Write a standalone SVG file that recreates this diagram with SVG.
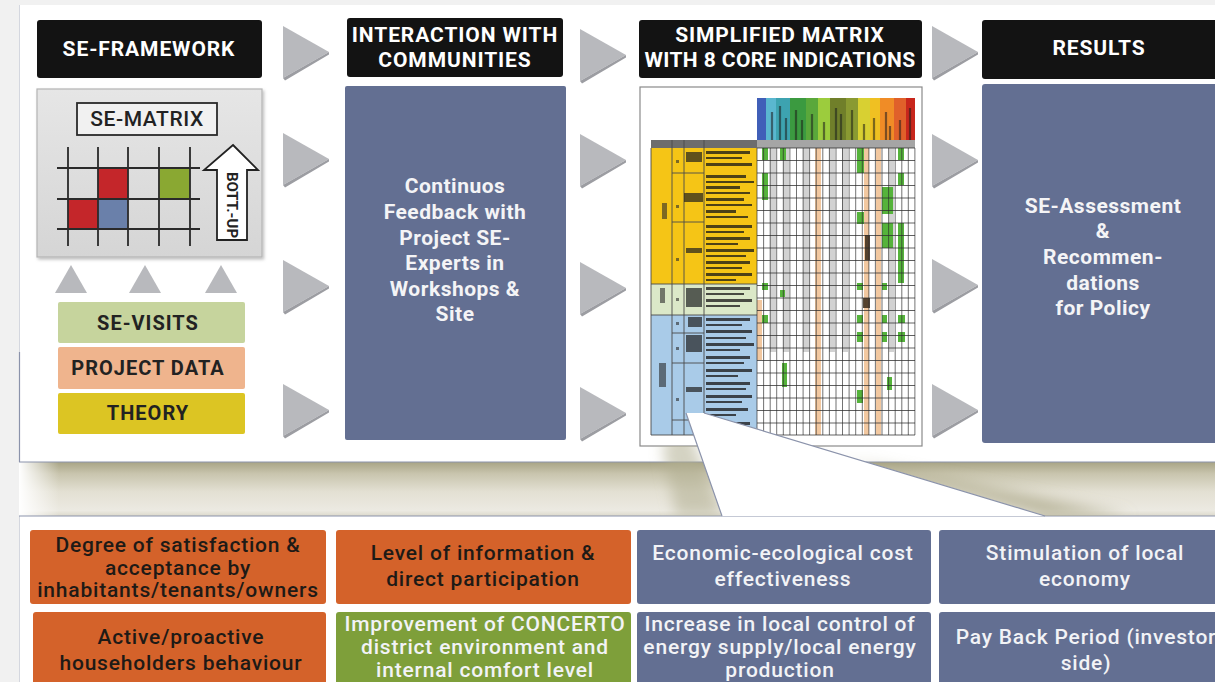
<svg xmlns="http://www.w3.org/2000/svg" width="1215" height="682" viewBox="0 0 1215 682">
  <style>
    .hdr { fill: #131313; }
    .hdr-t { font-family: Roboto, "Liberation Sans", sans-serif; font-weight: 700; font-size: 21px; letter-spacing: 0.9px; fill: #ffffff; text-anchor: middle; }
    .hdr-t.tight { letter-spacing: 0.4px; }
    .blue { fill: #636f92; }
    .orange { fill: #d4622a; }
    .green { fill: #7e9f3a; }
    .body-w { font-family: Roboto, "Liberation Sans", sans-serif; font-weight: 700; font-size: 21px; letter-spacing: 0.5px; fill: #f4f4f6; text-anchor: middle; }
    .cell-t { font-family: Roboto, "Liberation Sans", sans-serif; font-weight: 500; font-size: 21px; letter-spacing: 0.8px; text-anchor: middle; }
    .dark { fill: #1e1a16; }
    .light { fill: #f2f3f6; }
    .src-t { font-family: Roboto, "Liberation Sans", sans-serif; font-weight: 700; font-size: 20px; letter-spacing: 1px; fill: #222222; text-anchor: middle; }
    .tri { fill: #b8b9bd; }
    .tri-s { fill: #9c9da2; }
    .edge { stroke: #8b93ab; stroke-width: 1.2; fill: none; }
  </style>
  <defs>
    <linearGradient id="band" x1="0" y1="0" x2="0" y2="1">
      <stop offset="0" stop-color="#a8a485"/>
      <stop offset="0.22" stop-color="#c9c5ae"/>
      <stop offset="0.55" stop-color="#e3e0d3"/>
      <stop offset="0.9" stop-color="#eceae2"/>
      <stop offset="1" stop-color="#dcd9cb"/>
    </linearGradient>
    <linearGradient id="bandFade" x1="0" y1="0" x2="1" y2="0">
      <stop offset="0" stop-color="#ffffff" stop-opacity="1"/>
      <stop offset="1" stop-color="#ffffff" stop-opacity="0"/>
    </linearGradient>
    <linearGradient id="greyBox" x1="0" y1="0" x2="0" y2="1">
      <stop offset="0" stop-color="#e6e6e6"/>
      <stop offset="1" stop-color="#d5d5d5"/>
    </linearGradient>
    <filter id="soft" x="-5%" y="-5%" width="110%" height="110%">
      <feGaussianBlur stdDeviation="0.6"/>
    </filter>
    <filter id="haze" x="-30%" y="-30%" width="160%" height="160%">
      <feGaussianBlur stdDeviation="7"/>
    </filter>
    <filter id="drop" x="-10%" y="-10%" width="125%" height="125%">
      <feDropShadow dx="1.5" dy="2" stdDeviation="1.5" flood-color="#000000" flood-opacity="0.25"/>
    </filter>
    <clipPath id="bandClip">
      <rect x="19" y="446" width="1196" height="70"/>
    </clipPath>
    <!-- right-pointing flow arrowhead -->
    <g id="triR">
      <path class="tri" d="M0,0 L46,26 L0,52 Z"/>
      <path class="tri-s" d="M0,52 L46,26 L46,28.5 L2,54.5 Z"/>
    </g>
  </defs>

  <!-- page background and panels -->
  <rect x="0" y="0" width="1215" height="682" fill="#f1f1f1"/>
  <rect x="19" y="5" width="1196" height="457" fill="#ffffff"/>
  <line x1="19.5" y1="5" x2="19.5" y2="462" stroke="#d4d7df" stroke-width="1"/>
  <line x1="19.5" y1="352" x2="19.5" y2="462" stroke="#8b93ab" stroke-width="1.2"/>

  <!-- shadow band between the two panels -->
  <rect x="19" y="462" width="1196" height="54" fill="url(#band)"/>
  <rect x="19" y="462" width="40" height="54" fill="url(#bandFade)"/>

  <rect x="19" y="516" width="1196" height="166" fill="#ffffff"/>
  <line x1="19.5" y1="516" x2="19.5" y2="682" stroke="#d4d7df" stroke-width="1"/>
  <line x1="19" y1="462" x2="1215" y2="462" class="edge"/>
  <line x1="19" y1="516" x2="1215" y2="516" class="edge"/>

  <!-- column 1: framework -->
  <g id="se-framework">
    <rect class="hdr" x="37" y="20" width="225" height="58" rx="3"/>
    <text class="hdr-t" x="149" y="56">SE-FRAMEWORK</text>
  </g>

  <g id="se-matrix">
    <rect x="37" y="89" width="225" height="168" fill="url(#greyBox)" stroke="#b4b4b4" stroke-width="1.2" filter="url(#drop)"/>
    <rect x="77" y="103" width="140" height="32" fill="#f1f1f1" stroke="#2a2a2a" stroke-width="1.8"/>
    <text x="147" y="126" font-family="Roboto, 'Liberation Sans', sans-serif" font-weight="500" font-size="21" letter-spacing="0.6" fill="#222222" text-anchor="middle">SE-MATRIX</text>
    <g filter="url(#soft)">
      <rect x="98" y="168" width="30" height="31" fill="#c4262c"/>
      <rect x="159" y="168" width="31" height="31" fill="#8aa832"/>
      <rect x="68" y="199" width="30" height="30" fill="#c4262c"/>
      <rect x="98" y="199" width="30" height="30" fill="#6b80aa"/>
      <path d="M68,147V246 M98,147V246 M128,147V246 M159,147V246 M190,147V246 M57,168H200 M57,199H200 M57,229H200" stroke="#2b2b2b" stroke-width="1.8" fill="none"/>
    </g>
    <path d="M233,145 L258,170 L247,170 L247,240 L217,240 L217,170 L204,170 Z" fill="#ffffff" stroke="#222222" stroke-width="1.8"/>
    <text transform="translate(232,205) rotate(90)" font-family="Roboto, 'Liberation Sans', sans-serif" font-weight="700" font-size="15" fill="#222222" text-anchor="middle" dy="5">BOTT.-UP</text>
  </g>

  <g id="se-visits">
    <rect x="58" y="302" width="187" height="41" rx="2" fill="#c6d49d"/>
    <text class="src-t" x="148" y="330">SE-VISITS</text>
  </g>
  <g id="project-data">
    <rect x="58" y="347" width="187" height="42" rx="2" fill="#efb48d"/>
    <text class="src-t" x="148" y="375">PROJECT DATA</text>
  </g>
  <g id="theory">
    <rect x="58" y="393" width="187" height="41" rx="2" fill="#dcc523"/>
    <text class="src-t" x="148" y="420">THEORY</text>
  </g>

  <!-- column 2: interaction -->
  <g id="interaction">
    <rect class="hdr" x="347" y="18" width="216" height="59" rx="3"/>
    <text class="hdr-t" x="455" y="42">INTERACTION WITH</text>
    <text class="hdr-t" x="455" y="67">COMMUNITIES</text>
  </g>
  <g id="feedback">
    <rect class="blue" x="345" y="86" width="221" height="354" rx="2"/>
    <text class="body-w" x="455" y="193">Continuos</text>
    <text class="body-w" x="455" y="219">Feedback with</text>
    <text class="body-w" x="455" y="245">Project SE-</text>
    <text class="body-w" x="455" y="270">Experts in</text>
    <text class="body-w" x="455" y="296">Workshops &amp;</text>
    <text class="body-w" x="455" y="321">Site</text>
  </g>

  <!-- column 3: simplified matrix -->
  <g id="simplified-matrix">
    <rect class="hdr" x="639" y="20" width="283" height="58" rx="3"/>
    <text class="hdr-t" x="780" y="42">SIMPLIFIED MATRIX</text>
    <text class="hdr-t tight" x="780" y="67">WITH 8 CORE INDICATIONS</text>
  </g>
  <g id="matrix-sheet">
    <rect x="640" y="87" width="282" height="359" fill="#ffffff" stroke="#8a8a8a" stroke-width="1.2"/>
    <g filter="url(#soft)">
      <!-- indicator header strip -->
      <rect x="757" y="98" width="9" height="42" fill="#3f5fb8"/>
      <rect x="766" y="98" width="10" height="42" fill="#5ab7d0"/>
      <rect x="776" y="98" width="14" height="42" fill="#3ea3b0"/>
      <rect x="790" y="98" width="16" height="42" fill="#3b9a40"/>
      <rect x="806" y="98" width="12" height="42" fill="#5aa83a"/>
      <rect x="818" y="98" width="12" height="42" fill="#9ccc3c"/>
      <rect x="830" y="98" width="16" height="42" fill="#6f7f2c"/>
      <rect x="846" y="98" width="12" height="42" fill="#8a9a30"/>
      <rect x="858" y="98" width="12" height="42" fill="#d8d030"/>
      <rect x="870" y="98" width="10" height="42" fill="#f0c020"/>
      <rect x="880" y="98" width="14" height="42" fill="#f08c28"/>
      <rect x="894" y="98" width="12" height="42" fill="#e0602a"/>
      <rect x="906" y="98" width="9" height="42" fill="#c8281c"/>
      <path d="M772,112v28 M780,106v34 M786,118v22 M796,110v30 M802,120v20 M812,114v26 M824,122v18 M836,108v32 M841,114v26 M852,110v30 M864,124v16 M874,118v22 M886,112v28 M890,126v14 M900,120v20 M910,108v32" stroke="#1c1c1c" stroke-width="2.2" stroke-opacity="0.55"/>
      <!-- column header bar -->
      <rect x="651" y="140" width="106" height="8" fill="#6d6d6d"/>
      <rect x="757" y="140" width="158" height="8" fill="#a5a5a5"/>
      <!-- row groups -->
      <rect x="651" y="148" width="106" height="136" fill="#f5c518"/>
      <rect x="651" y="284" width="106" height="31" fill="#dbe8c8"/>
      <rect x="651" y="315" width="106" height="120" fill="#a9cbe8"/>
      <path d="M651,148V435 M672,140V435 M684,140V435 M704,140V435 M651,284H757 M651,315H757 M672,173H704 M672,222H704 M672,333H704 M672,363H704 M672,420H704 M651,435H757" stroke="#4a4a4a" stroke-width="0.9" fill="none"/>
      <!-- blurred row labels -->
      <path d="M662,203h5v16h-5z M660,288h5v15h-5z M659,363h7v24h-7z M676,160h3v3h-3z M676,205h3v3h-3z M676,258h3v3h-3z M676,298h3v3h-3z M676,322h3v3h-3z M676,347h3v3h-3z M676,398h3v3h-3z" fill="#2a2a2a" fill-opacity="0.6"/>
      <path d="M686,152h16v10h-16z M684,193h19v9h-19z M686,248h16v5h-16z M686,288h16v19h-16z M688,317h14v10h-14z M686,335h16v17h-16z M686,387h16v5h-16z" fill="#1f1f1f" fill-opacity="0.7"/>
      <path d="M706,151h44v3h-44z M706,157h36v2h-36z M706,163h46v3h-46z M706,175h40v3h-40z M706,181h48v2h-48z M706,186h34v3h-34z M706,192h44v2h-44z M706,198h38v3h-38z M706,204h46v2h-46z M706,210h30v3h-30z M706,216h42v2h-42z M706,225h46v3h-46z M706,231h38v2h-38z M706,237h44v3h-44z M706,243h32v2h-32z M706,249h48v3h-48z M706,255h40v2h-40z M706,261h44v3h-44z M706,267h36v2h-36z M706,273h46v3h-46z M706,279h30v2h-30z M706,287h44v3h-44z M706,293h38v2h-38z M706,299h46v3h-46z M706,305h34v2h-34z M706,318h44v3h-44z M706,324h36v2h-36z M706,330h46v3h-46z M706,337h40v2h-40z M706,343h48v3h-48z M706,349h34v2h-34z M706,356h44v3h-44z M706,362h38v2h-38z M706,369h46v3h-46z M706,375h32v2h-32z M706,382h44v3h-44z M706,388h40v2h-40z M706,395h46v3h-46z M706,401h36v2h-36z M706,408h42v3h-42z M706,414h30v2h-30z M706,422h44v3h-44z" fill="#161616" fill-opacity="0.75"/>
      <!-- indicator grid -->
      <path d="M770,148h6v204h-6z M783,148h6v204h-6z M803,148h6v204h-6z M829,148h6v204h-6z M842,148h6v204h-6z M889,148h5v204h-5z" fill="#d2d2d2"/>
      <path d="M815,148h6v287h-6z M864,148h5v287h-5z M876,148h5v287h-5z M757,300h5v60h-5z" fill="#f2c8a0"/>
      <path d="M762,148h6v12h-6z M780,148h6v12h-6z M762,173h6v27h-6z M857,148h7v25h-7z M857,212h7v12h-7z M882,187h11v27h-11z M898,148h6v12h-6z M898,173h6v12h-6z M898,223h6v60h-6z M882,223h11v25h-11z M762,283h6v7h-6z M780,290h5v7h-5z M857,283h6v7h-6z M882,283h5v7h-5z M762,315h6v8h-6z M857,315h6v8h-6z M882,315h5v8h-5z M898,315h7v8h-7z M857,332h6v10h-6z M882,332h5v10h-5z M898,332h7v10h-7z M782,363h5v24h-5z M887,377h5v13h-5z M857,390h6v13h-6z" fill="#55b33a"/>
      <path d="M863,298h7v10h-7z M865,235h5v25h-5z" fill="#3a2a1a" fill-opacity="0.85"/>
      <path d="M757,148V435 M763.6,148V435 M770.2,148V435 M776.7,148V435 M783.3,148V435 M789.9,148V435 M796.5,148V435 M803.1,148V435 M809.6,148V435 M816.2,148V435 M822.8,148V435 M829.4,148V435 M836,148V435 M842.5,148V435 M849.1,148V435 M855.7,148V435 M862.3,148V435 M868.9,148V435 M875.4,148V435 M882,148V435 M888.6,148V435 M895.2,148V435 M901.8,148V435 M908.3,148V435 M914.9,148V435" stroke="#2e2e2e" stroke-width="0.8" stroke-opacity="0.85" fill="none"/>
      <path d="M757,148H915 M757,160.5H915 M757,173H915 M757,185.5H915 M757,198H915 M757,210.5H915 M757,223H915 M757,235.5H915 M757,248H915 M757,260.5H915 M757,273H915 M757,285.5H915 M757,298H915 M757,310.5H915 M757,323H915 M757,335.5H915 M757,348H915 M757,360.5H915 M757,373H915 M757,385.5H915 M757,398H915 M757,410.5H915 M757,423H915 M757,435H915" stroke="#2e2e2e" stroke-width="0.9" stroke-opacity="0.85" fill="none"/>
    </g>
  </g>

  <!-- callout wedge from the matrix to the indicator boxes -->
  <g id="callout">
    <g clip-path="url(#bandClip)">
      <polygon points="706,420 1045,516 1130,516 780,446" fill="#a9a585" fill-opacity="0.75" filter="url(#haze)"/>
      <polygon points="686,420 722,516 676,516 662,446" fill="#b1ad90" fill-opacity="0.55" filter="url(#haze)"/>
    </g>
    <polygon points="686,413 704,413 1045,516 722,516" fill="#ffffff"/>
    <path d="M686,413 L722,516 M704,413 L1045,516" class="edge"/>
  </g>

  <!-- column 4: results -->
  <g id="results">
    <rect class="hdr" x="982" y="20" width="240" height="59" rx="3"/>
    <text class="hdr-t" x="1099" y="55">RESULTS</text>
  </g>
  <g id="assessment">
    <rect class="blue" x="982" y="84" width="240" height="359" rx="3"/>
    <text class="body-w" x="1103" y="213">SE-Assessment</text>
    <text class="body-w" x="1103" y="238">&amp;</text>
    <text class="body-w" x="1103" y="264">Recommen-</text>
    <text class="body-w" x="1103" y="290">dations</text>
    <text class="body-w" x="1103" y="315">for Policy</text>
  </g>

  <!-- flow arrowheads between stages -->
  <g id="connectors">
    <use href="#triR" x="283" y="26"/>
    <use href="#triR" x="283" y="133"/>
    <use href="#triR" x="283" y="260"/>
    <use href="#triR" x="283" y="384"/>
    <use href="#triR" x="580" y="29"/>
    <use href="#triR" x="580" y="134"/>
    <use href="#triR" x="580" y="262"/>
    <use href="#triR" x="580" y="387"/>
    <use href="#triR" x="932" y="26"/>
    <use href="#triR" x="932" y="134"/>
    <use href="#triR" x="932" y="259"/>
    <use href="#triR" x="932" y="384"/>
    <polygon class="tri" points="55,293 71,265 87,293"/>
    <polygon class="tri" points="129,293 145,265 161,293"/>
    <polygon class="tri" points="205,293 221,265 237,293"/>
  </g>

  <!-- core indications -->
  <g id="ind-satisfaction">
    <rect class="orange" x="30" y="530" width="296" height="74" rx="3"/>
    <text class="cell-t dark" x="178" y="552">Degree of satisfaction &amp;</text>
    <text class="cell-t dark" x="178" y="575">acceptance by</text>
    <text class="cell-t dark" x="178" y="597">inhabitants/tenants/owners</text>
  </g>
  <g id="ind-information">
    <rect class="orange" x="336" y="530" width="295" height="74" rx="3"/>
    <text class="cell-t dark" x="483" y="560">Level of information &amp;</text>
    <text class="cell-t dark" x="483" y="586">direct participation</text>
  </g>
  <g id="ind-cost">
    <rect class="blue" x="637" y="530" width="294" height="74" rx="3"/>
    <text class="cell-t light" x="783" y="560">Economic-ecological cost</text>
    <text class="cell-t light" x="783" y="586">effectiveness</text>
  </g>
  <g id="ind-economy">
    <rect class="blue" x="939" y="530" width="290" height="74" rx="3"/>
    <text class="cell-t light" x="1085" y="560">Stimulation of local</text>
    <text class="cell-t light" x="1085" y="586">economy</text>
  </g>
  <g id="ind-behaviour">
    <rect class="orange" x="33" y="612" width="293" height="80" rx="3"/>
    <text class="cell-t dark" x="181" y="644">Active/proactive</text>
    <text class="cell-t dark" x="181" y="670">householders behaviour</text>
  </g>
  <g id="ind-comfort">
    <rect class="green" x="336" y="612" width="295" height="80" rx="3"/>
    <text class="cell-t light" x="485" y="631">Improvement of CONCERTO</text>
    <text class="cell-t light" x="485" y="654">district environment and</text>
    <text class="cell-t light" x="485" y="677">internal comfort level</text>
  </g>
  <g id="ind-energy">
    <rect class="blue" x="637" y="612" width="294" height="80" rx="3"/>
    <text class="cell-t light" x="780" y="631">Increase in local control of</text>
    <text class="cell-t light" x="780" y="654">energy supply/local energy</text>
    <text class="cell-t light" x="780" y="677">production</text>
  </g>
  <g id="ind-payback">
    <rect class="blue" x="939" y="612" width="290" height="80" rx="3"/>
    <text class="cell-t light" x="1086" y="644">Pay Back Period (investor</text>
    <text class="cell-t light" x="1086" y="670">side)</text>
  </g>
</svg>
